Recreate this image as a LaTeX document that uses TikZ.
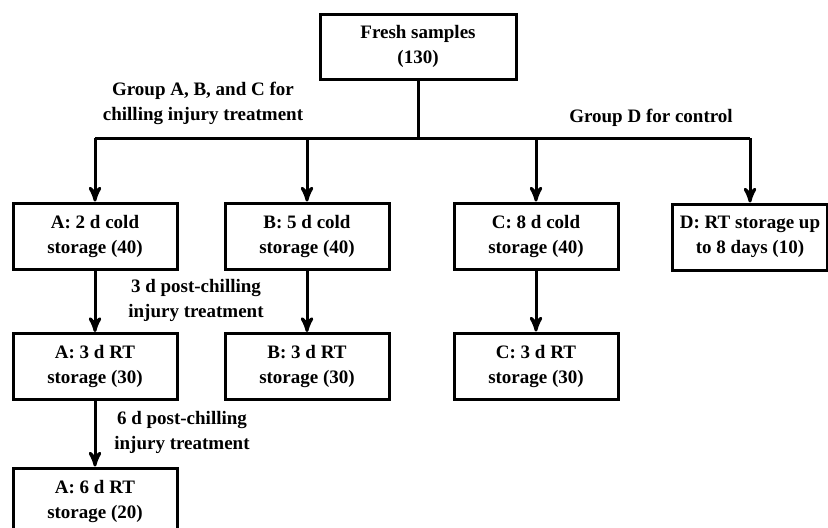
\documentclass[tikz,border=0pt]{standalone}
\usepackage{fontspec}
\setmainfont{Liberation Serif}
\usetikzlibrary{arrows}

\begin{document}
\begin{tikzpicture}[x=0.5pt,y=-0.5pt,>=stealth',line width=1.5pt,every node/.style={align=center,font=\bfseries\fontsize{9.5}{12.5}\selectfont},box/.style={draw,rectangle,minimum width=82pt,minimum height=33pt,inner sep=0pt}]
\useasboundingbox (0,0) rectangle (828,527);
\clip (0,0) rectangle (828,527);
\node[box,minimum width=98pt,minimum height=32.5pt] (fresh) at (418,46.5) {Fresh samples\\(130)};
\node[box] (a1) at (95,236) {A: 2 d cold\\storage (40)};
\node[box] (b1) at (307,236) {B: 5 d cold\\storage (40)};
\node[box] (c1) at (536,236) {C: 8 d cold\\storage (40)};
\node[box,minimum width=77.5pt] (d1) at (750,237) {D: RT storage up\\to 8 days (10)};
\node[box] (a2) at (95,366.5) {A: 3 d RT\\storage (30)};
\node[box] (b2) at (307,366.5) {B: 3 d RT\\storage (30)};
\node[box] (c2) at (536,366) {C: 3 d RT\\storage (30)};
\node[box] (a3) at (95,501) {A: 6 d RT\\storage (20)};
\node (grpabc) at (203,103) {Group A, B, and C for\\chilling injury treatment};
\node (grpd) at (651,118) {Group D for control};
\node (post3) at (196,300) {3 d post-chilling\\injury treatment};
\node (post6) at (182,432) {6 d post-chilling\\injury treatment};
\coordinate (split) at (418,138);
\draw (fresh) -- (split);
\draw (split -| a1) -- (split -| d1);
\draw[->] (split -| a1) -- (a1.north);
\draw[->] (split -| b1) -- (b1.north);
\draw[->] (split -| c1) -- (c1.north);
\draw[->] (split -| d1) -- (d1.north);
\draw[->] (a1) -- (a2);
\draw[->] (b1) -- (b2);
\draw[->] (c1) -- (c2);
\draw[->] (a2) -- (a3);
\end{tikzpicture}
\end{document}
